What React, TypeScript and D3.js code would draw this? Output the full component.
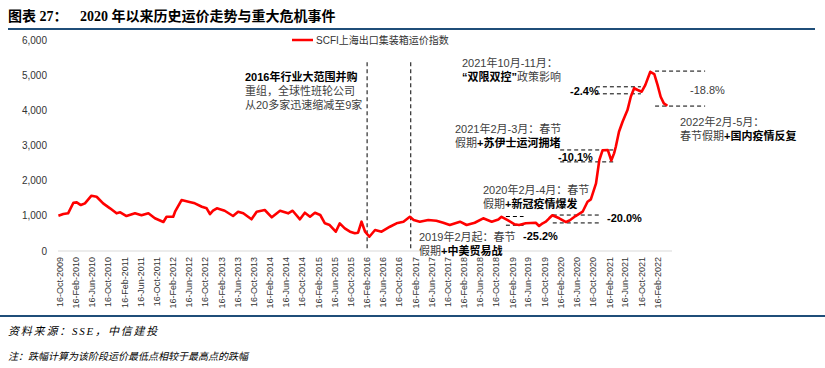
import * as d3 from "d3";

const seriesDates = [
  "2009-10-04", "2009-11-10", "2009-12-16", "2010-01-25", "2010-02-19", "2010-03-22", "2010-04-22",
  "2010-06-10", "2010-07-19", "2010-09-06", "2010-10-28", "2010-12-16", "2011-01-13", "2011-03-01",
  "2011-05-04", "2011-06-22", "2011-08-13", "2011-10-01", "2011-12-04", "2011-12-28", "2012-02-16",
  "2012-03-01", "2012-04-19", "2012-06-10", "2012-07-28", "2012-09-19", "2012-10-25", "2012-11-19",
  "2012-12-12", "2013-01-10", "2013-03-10", "2013-05-12", "2013-06-19", "2013-07-28", "2013-09-28",
  "2013-11-06", "2014-01-06", "2014-02-28", "2014-05-01", "2014-07-01", "2014-08-04", "2014-09-28",
  "2014-11-04", "2014-12-13", "2015-01-19", "2015-02-28", "2015-04-04", "2015-05-10", "2015-06-25",
  "2015-07-25", "2015-09-01", "2015-10-10", "2015-11-16", "2015-12-10", "2016-01-05", "2016-02-01",
  "2016-03-04", "2016-04-16", "2016-06-04", "2016-08-06", "2016-09-25", "2016-11-16", "2017-01-03",
  "2017-02-01", "2017-03-19", "2017-05-22", "2017-07-22", "2017-09-12", "2017-10-31", "2018-01-16",
  "2018-03-07", "2018-05-07", "2018-07-10", "2018-09-12", "2018-11-01", "2018-11-25", "2019-01-10",
  "2019-03-04", "2019-04-06", "2019-05-26", "2019-08-10", "2019-09-04", "2019-10-01", "2019-10-25",
  "2019-11-19", "2019-12-13", "2020-02-03", "2020-03-25", "2020-04-20", "2020-06-05", "2020-07-28",
  "2020-09-03", "2020-09-28", "2020-11-06", "2020-12-01", "2020-12-25", "2021-02-03", "2021-03-01",
  "2021-03-22", "2021-04-04", "2021-04-28", "2021-05-25", "2021-07-01", "2021-07-26", "2021-08-20",
  "2021-09-16", "2021-10-16", "2021-11-12", "2021-12-20", "2022-01-19", "2022-02-13", "2022-03-08",
  "2022-04-01", "2022-04-28",
];
const seriesValues = [
  1005, 1054, 1074, 1376, 1387, 1310, 1358,
  1576, 1547, 1358, 1216, 1074, 1102, 997,
  1074, 1017, 1074, 932, 826, 977, 977,
  1120, 1453, 1405, 1358, 1262, 1216, 1054,
  1148, 1216, 1148, 997, 1120, 1074, 903,
  1120, 1168, 960, 1148, 1074, 1148, 903,
  1091, 977, 1091, 1026, 789, 741, 550,
  789, 647, 550, 504, 521, 835, 550,
  407, 598, 550, 692, 789, 835, 977,
  883, 835, 883, 863, 806, 741, 835,
  741, 806, 932, 835, 900, 975, 880,
  760, 740, 789, 806, 712, 789, 835,
  932, 1020, 932, 825, 870, 997, 1120,
  1405, 1473, 1929, 2593, 2870, 2877, 2580,
  2783, 2972, 3400, 3684, 4017, 4396, 4640,
  4590, 4540, 4729, 5108, 5043, 4729, 4396,
  4208, 4140,
];

const yTicks = [0, 1000, 2000, 3000, 4000, 5000, 6000];
const firstTick = "2009-10-16";
const lastTick = "2022-02-16";
const tickCount = 38; // one label every 4 months

// event markers (vertical dashed lines)
const eventDates = ["2016-02-16", "2017-01-10"];

// drop brackets: level pair, date span, label
const dropLabels = ["-25.2%", "-20.0%", "-10.1%", "-2.4%", "-18.8%"];
const dropHigh = [983, 1025, 2880, 4680, 5128];
const dropLow = [735, 800, 2540, 4480, 4131];
const dropFrom = ["2018-12-28", "2019-12-16", "2020-02-10", "2020-11-05", "2022-01-25"];
const dropTo = ["2019-05-10", "2020-12-14", "2021-03-20", "2021-10-10", "2023-02-06"];

const legendName = "SCFI上海出口集装箱运价指数";
const title1 = "图表 27：";
const title2 = "2020 年以来历史运价走势与重大危机事件";
const source = "资料来源：SSE，中信建投";
const note = "注：跌幅计算为该阶段运价最低点相较于最高点的跌幅";

type Seg = { t: string; b?: boolean };
const notes: { x: number; y: number; lines: Seg[][] }[] = [
  { x: 245, y: 81, lines: [[{ t: "2016年行业大范围并购", b: true }], [{ t: "重组，全球性班轮公司" }], [{ t: "从20多家迅速缩减至9家" }]] },
  { x: 462, y: 67, lines: [[{ t: "2021年10月-11月：" }], [{ t: "“双限双控”", b: true }, { t: "政策影响" }]] },
  { x: 680, y: 126, lines: [[{ t: "2022年2月-5月：" }], [{ t: "春节假期" }, { t: "+国内疫情反复", b: true }]] },
  { x: 455, y: 133, lines: [[{ t: "2021年2月-3月：春节" }], [{ t: "假期" }, { t: "+苏伊士运河拥堵", b: true }]] },
  { x: 483, y: 194, lines: [[{ t: "2020年2月-4月：春节" }], [{ t: "假期" }, { t: "+新冠疫情爆发", b: true }]] },
  { x: 419, y: 241, lines: [[{ t: "2019年2月起：春节" }], [{ t: "假期" }, { t: "+中美贸易战", b: true }]] },
];
// label placement for each drop bracket
const dropPos = [
  { x: 523, y: 240, b: true },
  { x: 607, y: 222, b: true },
  { x: 558, y: 161, b: true },
  { x: 570, y: 95, b: true },
  { x: 690, y: 94, b: false },
];

const FONT = "'Liberation Sans', Arial, 'Noto Sans CJK SC', sans-serif";
const parse = d3.timeParse("%Y-%m-%d");
const fmt = d3.timeFormat("%d-%b-%Y");

export default function App() {
  const width = 825;
  const height = 368;
  const x = d3.scaleTime([parse(firstTick)!, parse(lastTick)!], [60, 658]);
  const y = d3.scaleLinear([0, 6000], [251, 40.5]);
  const pts = seriesDates.map((d, i) => [parse(d)!, seriesValues[i]] as [Date, number]);
  const line = d3.line<[Date, number]>((d) => x(d[0]), (d) => y(d[1]));
  const xTicks = d3.range(tickCount).map((i) => d3.timeMonth.offset(parse(firstTick)!, 4 * i));

  return (
    <svg width={width} height={height} style={{ position: "absolute", left: 0, top: 0, background: "#fff" }} fontFamily={FONT}>
      <rect width={width} height={height} fill="#fff" />
      <text x={8} y={21} fontSize={14} fontWeight="bold" fill="#000" fontFamily="'Liberation Serif', 'Noto Sans CJK SC', serif">
        <tspan>{title1}</tspan>
        <tspan x={80}>{title2}</tspan>
      </text>
      <line x1={8} x2={815} y1={29} y2={29} stroke="#1f4e79" strokeWidth={2} />
      <line x1={0} x2={825} y1={316} y2={316} stroke="#1f4e79" strokeWidth={2} />

      {/* y axis labels */}
      <g fontSize={10} fill="#333" textAnchor="end">
        {yTicks.map((t) => (
          <text key={t} x={47} y={y(t)} dy="0.35em">{d3.format(",")(t)}</text>
        ))}
      </g>

      {/* x axis */}
      <line x1={58} x2={672} y1={251} y2={251} stroke="#d9d9d9" />
      <g fontSize={9} fill="#333" textAnchor="end">
        {xTicks.map((d) => (
          <text key={+d} transform={`translate(${x(d) + 3},257) rotate(-90)`}>{fmt(d)}</text>
        ))}
      </g>

      {/* legend */}
      <line x1={292} x2={313} y1={40} y2={40} stroke="#ff0000" strokeWidth={2.5} />
      <text x={316} y={43.5} fontSize={10} fill="#333">{legendName}</text>

      {/* event lines */}
      <g stroke="#000" strokeWidth={1} strokeDasharray="4 3">
        {eventDates.map((d) => (
          <line key={d} x1={x(parse(d)!)} x2={x(parse(d)!)} y1={y(5380)} y2={y(0)} />
        ))}
      </g>

      {/* drop brackets */}
      <g stroke="#000" strokeWidth={1} strokeDasharray="4 3" fill="none">
        {dropLabels.map((l, i) => (
          <g key={l}>
            <line x1={x(parse(dropFrom[i])!)} x2={x(parse(dropTo[i])!)} y1={y(dropHigh[i])} y2={y(dropHigh[i])} />
            <line x1={x(parse(dropFrom[i])!)} x2={x(parse(dropTo[i])!)} y1={y(dropLow[i])} y2={y(dropLow[i])} />
          </g>
        ))}
      </g>
      <g fontSize={11}>
        {dropLabels.map((l, i) => (
          <text key={l} x={dropPos[i].x} y={dropPos[i].y} fontWeight={dropPos[i].b ? "bold" : "normal"} fill={dropPos[i].b ? "#000" : "#404040"}>{l}</text>
        ))}
      </g>

      {/* series */}
      <path d={line(pts) ?? ""} fill="none" stroke="#ff0000" strokeWidth={2.6} strokeLinejoin="round" />

      {/* annotations */}
      <g fontSize={11}>
        {notes.map((n, i) => (
          <g key={i}>
            {n.lines.map((ln, j) => (
              <text key={j} x={n.x} y={n.y + j * 14}>
                {ln.map((s, k) => (
                  <tspan key={k} fontWeight={s.b ? "bold" : "normal"} fill={s.b ? "#000" : "#404040"}>{s.t}</tspan>
                ))}
              </text>
            ))}
          </g>
        ))}
      </g>

      {/* footer */}
      <g fontStyle="italic" fill="#000" fontFamily="'Liberation Serif', 'Noto Sans CJK SC', serif">
        <text x={8} y={335} fontSize={11} letterSpacing={1.8}>{source}</text>
        <text x={8} y={360} fontSize={10}>{note}</text>
      </g>
    </svg>
  );
}
